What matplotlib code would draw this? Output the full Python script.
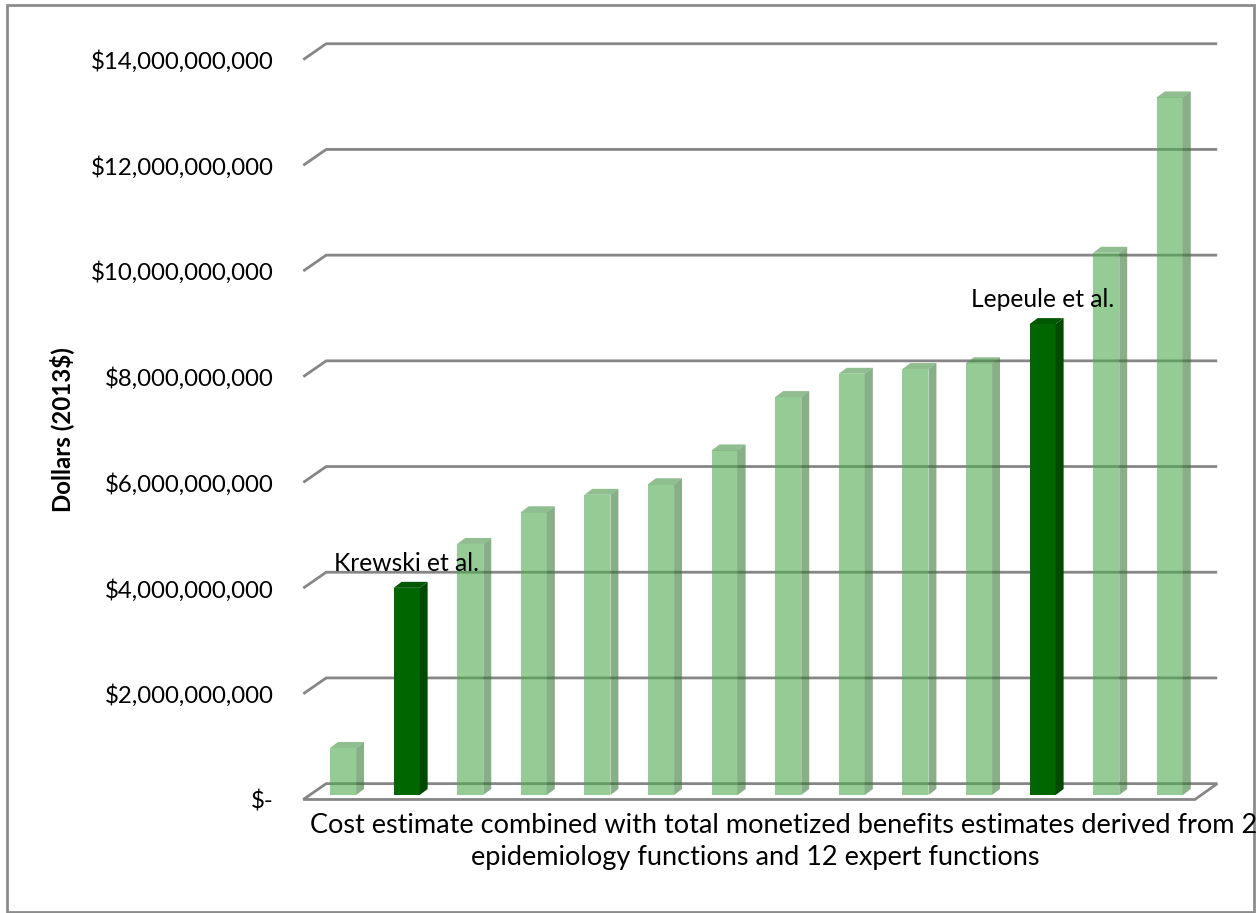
import matplotlib.pyplot as plt
from matplotlib.patches import Polygon, Rectangle

# bar values (2013 dollars), sorted low to high as in the chart
values = [0.89e9, 3.92e9, 4.75e9, 5.35e9, 5.68e9, 5.88e9, 6.52e9,
          7.53e9, 7.97e9, 8.06e9, 8.17e9, 8.91e9, 10.26e9, 13.20e9]
highlight = [False, True, False, False, False, False, False,
             False, False, False, False, True, False, False]
notes = {1: "Krewski et al.", 11: "Lepeule et al."}
ticks = [0, 2e9, 4e9, 6e9, 8e9, 10e9, 12e9, 14e9]
tick_labels = ["$-"] + ["${:,.0f}".format(t) for t in ticks[1:]]
xlabel_lines = ["Cost estimate combined with total monetized benefits estimates derived from 2",
                "epidemiology functions and 12 expert functions"]
ylabel = "Dollars (2013$)"

plt.rcParams['font.family'] = ['Lato', 'DejaVu Sans']

# fake 3d geometry (data units)
bar_w = 0.41
side_dx, side_dy = 0.125, 0.113e9
front_dy, back_dy = -0.085e9, 0.215e9
wall_x0, wall_x1 = -0.42, -0.06
wall_end_back, wall_end_front = 13.95, 13.6

light = dict(front="#4fab4f", side="#3a7a3a", top="#469446", alpha=0.6)
dark = dict(front="#006600", side="#004a00", top="#005700", alpha=1.0)
grid_color = "#868686"

fig = plt.figure(figsize=(12.6, 9.13), dpi=100)
ax = fig.add_axes([300 / 1260, (913 - 810) / 913, 920 / 1260, 780 / 913])
ax.set_xlim(-0.472, 13.994)
ax.set_ylim(-0.284e9, 14.475e9)
for s in ax.spines.values():
    s.set_visible(False)
ax.set_xticks([])

# gridlines with slanted left wall segment
for t in ticks[1:]:
    ax.plot([wall_x0, wall_x1, wall_end_back],
            [t + front_dy, t + back_dy, t + back_dy],
            color=grid_color, lw=2, zorder=1, solid_capstyle='butt')

# floor
floor = Polygon([(wall_x0, front_dy), (wall_end_front, front_dy),
                 (wall_end_back, back_dy), (wall_x1, back_dy)],
                closed=True, fill=False, edgecolor=grid_color, lw=2, zorder=1)
ax.add_patch(floor)

for i, (v, hl) in enumerate(zip(values, highlight)):
    c = dark if hl else light
    z = 3 if hl else 2
    x = i
    ax.add_patch(Rectangle((x, 0), bar_w, v, facecolor=c["front"],
                           alpha=c["alpha"], edgecolor="none", zorder=z))
    ax.add_patch(Polygon([(x + bar_w, 0), (x + bar_w, v),
                          (x + bar_w + side_dx, v + side_dy),
                          (x + bar_w + side_dx, side_dy)],
                         facecolor=c["side"], alpha=c["alpha"],
                         edgecolor="none", zorder=z))
    ax.add_patch(Polygon([(x, v), (x + bar_w, v),
                          (x + bar_w + side_dx, v + side_dy),
                          (x + side_dx, v + side_dy)],
                         facecolor=c["top"], alpha=c["alpha"],
                         edgecolor="none", zorder=z))
    if i in notes:
        ax.text(x + bar_w / 2, v + 0.32e9, notes[i], ha="center",
                va="baseline", fontsize=17.7, zorder=4)

ax.set_yticks([t + front_dy for t in ticks])
ax.set_yticklabels(tick_labels, fontsize=17.3)
ax.tick_params(axis="y", length=0, pad=19)

fig.text(62 / 1260, 1 - 430 / 913, ylabel, rotation=90, ha="center",
         va="center", fontsize=17.3, fontweight="bold")

fig.text(310 / 1260, 1 - 825 / 913, xlabel_lines[0], ha="left",
         va="center", fontsize=19.5)
fig.text(755 / 1260, 1 - 857 / 913, xlabel_lines[1], ha="center",
         va="center", fontsize=19.5)

# chart frame
fig.patches.append(Rectangle((7 / 1260, 1 / 913), 1247 / 1260, 907 / 913,
                             transform=fig.transFigure, fill=False,
                             edgecolor="#8c8c8c", lw=2))

fig.savefig("out.png", dpi=100)
